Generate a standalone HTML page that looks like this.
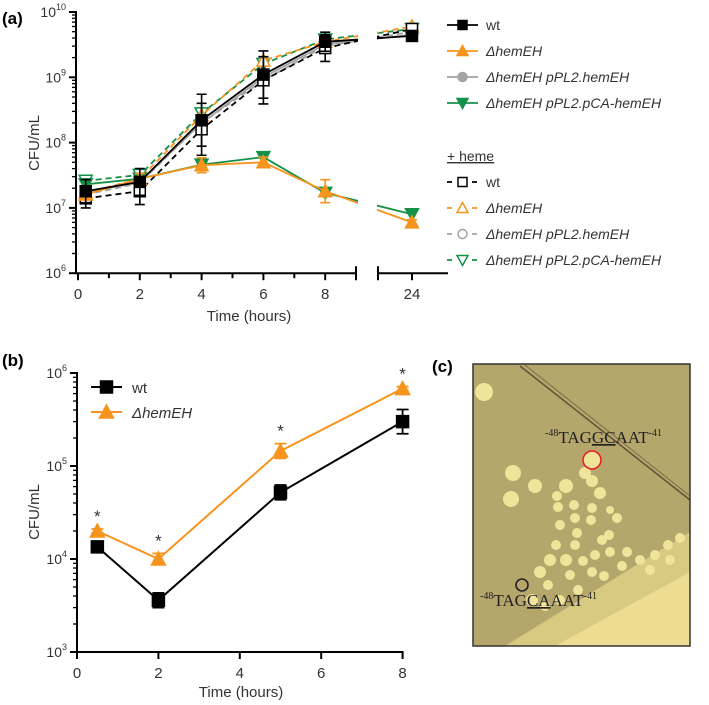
<!DOCTYPE html>
<html><head><meta charset="utf-8"><style>
html,body{margin:0;padding:0;background:#fff;}
svg{display:block;font-family:"Liberation Sans",sans-serif;}
</style></head><body>
<svg id="fig" width="709" height="705" viewBox="0 0 709 705" xmlns="http://www.w3.org/2000/svg">
<g id="pa"></g>
<g id="pb"></g>
<g id="pc"></g>
</svg>
<script>
// ---- Panel (a) data ----
const timesA = [0.25, 2, 4, 6, 8, 24];
const wtA = [1.8e7, 2.5e7, 2.2e8, 1.1e9, 3.5e9, 4.3e9];
const hemA = [1.6e7, 2.8e7, 4.5e7, 5.0e7, 1.8e7, 6e6];
const compA = [1.7e7, 2.5e7, 2.0e8, 1.0e9, 3.2e9, 4.5e9];
const pcaA = [2.3e7, 2.8e7, 4.6e7, 6.0e7, 1.7e7, 8e6];
const wtHemeA = [1.4e7, 1.8e7, 1.6e8, 9e8, 2.8e9, 5.5e9];
const hemHemeA = [1.7e7, 2.8e7, 2.6e8, 1.8e9, 3.5e9, 6e9];
const compHemeA = [1.6e7, 2.4e7, 2.0e8, 9e8, 3.0e9, 5e9];
const pcaHemeA = [2.6e7, 3.2e7, 2.8e8, 1.6e9, 3.8e9, 5.5e9];
const wtErrA = [1.5, 1.6, 2.5, 2.3, 1.4, 1.2];
const wtHemeErrA = [1.4, 1.6, 2.5, 2.3, 1.6, 1.2];
const hemErrA = [1.2, 1.2, 1.3, 1.2, 1.5, 1.1];
const yTicksA = [6, 7, 8, 9, 10];
const xTicksA = [0, 2, 4, 6, 8, 24];
// ---- Panel (b) data ----
const timesB = [0.5, 2, 5, 8];
const wtB = [1.35e4, 3.6e3, 5.2e4, 3.0e5];
const hemB = [2.0e4, 1.0e4, 1.45e5, 6.8e5];
const wtErrB = [1.1, 1.2, 1.2, 1.35];
const hemErrB = [1.05, 1.15, 1.2, 1.05];
const yTicksB = [3, 4, 5, 6];
const xTicksB = [0, 2, 4, 6, 8];

const NS = "http://www.w3.org/2000/svg";
function mk(parent, tag, attrs, text) {
  const e = document.createElementNS(NS, tag);
  for (const k in attrs) e.setAttribute(k, attrs[k]);
  if (text !== undefined) e.textContent = text;
  parent.appendChild(e);
  return e;
}
const ORANGE = "#f7941d", GREEN = "#149048", GRAY = "#a3a3a3", BLACK = "#000";

// ---------------- Panel A ----------------
const pa = document.getElementById('pa');
function xA(t) { return t <= 9 ? 78 + t * 30.9 : 412 + (t - 24) * 30.9; }
function yA(v) { return 12 + (10 - Math.log10(v)) * 65.3; }

let lbl = mk(pa, 'text', {x: 2, y: 24, 'font-size': 17, 'font-weight': 'bold'}, '(a)');
 

function seriesA(vals, color, dash, marker, filled, name, errs, width) {
  const g = mk(pa, 'g', {});
  
  
  const pts = timesA.map((t, i) => [xA(t), yA(vals[i])]);
  const d = pts.map((p, i) => (i ? 'L' : 'M') + p[0].toFixed(1) + ' ' + p[1].toFixed(1)).join(' ');
  const ln = mk(g, 'path', {d: d, fill: 'none', stroke: color, 'stroke-width': width || 1.8, 'stroke-dasharray': dash ? '6 4' : 'none'});
   
  if (errs) {
    timesA.forEach((t, i) => {
      const x = xA(t), y1 = yA(vals[i] * errs[i]), y2 = yA(vals[i] / errs[i]);
      const eb = mk(g, 'path', {d: `M${x} ${y1} V${y2} M${x - 5} ${y1} H${x + 5} M${x - 5} ${y2} H${x + 5}`, stroke: color, 'stroke-width': 1.6, fill: 'none'});
       
    });
  }
  pts.forEach(p => drawMarker(g, p[0], p[1], marker, color, filled, name + '-point', 5.5));
}
function drawMarker(g, x, y, m, color, filled, name, s) {
  let e;
  const fill = filled ? color : '#fff';
  if (m === 'sq') e = mk(g, 'rect', {x: x - s, y: y - s, width: 2 * s, height: 2 * s, fill: fill, stroke: color, 'stroke-width': 1.5});
  else if (m === 'tri') e = mk(g, 'path', {d: `M${x} ${y - s - 1} L${x + s + 1} ${y + s} L${x - s - 1} ${y + s} Z`, fill: fill, stroke: color, 'stroke-width': 1.5});
  else if (m === 'dtri') e = mk(g, 'path', {d: `M${x} ${y + s + 1} L${x + s + 1} ${y - s} L${x - s - 1} ${y - s} Z`, fill: fill, stroke: color, 'stroke-width': 1.5});
  else e = mk(g, 'circle', {cx: x, cy: y, r: s, fill: fill, stroke: color, 'stroke-width': 1.5});
  
  
}
seriesA(compHemeA, GRAY, true, 'circ', false, 'series-hemEH-pPL2-heme');
seriesA(compA, GRAY, false, 'circ', true, 'series-hemEH-pPL2');
seriesA(pcaHemeA, GREEN, true, 'dtri', false, 'series-pCA-heme');
seriesA(hemHemeA, ORANGE, true, 'tri', false, 'series-hemEH-heme');
seriesA(wtHemeA, BLACK, true, 'sq', false, 'series-wt-heme', wtHemeErrA);
seriesA(pcaA, GREEN, false, 'dtri', true, 'series-pCA');
seriesA(hemA, ORANGE, false, 'tri', true, 'series-hemEH', hemErrA);
seriesA(wtA, BLACK, false, 'sq', true, 'series-wt', wtErrA);
const gap = mk(pa, 'rect', {x: 358, y: 0, width: 19, height: 272, fill: '#fff'});
 

const axA = mk(pa, 'g', {stroke: '#000', 'stroke-width': 2, fill: 'none'});
 
const yAxY0 = yA(1e6);
mk(axA, 'path', {d: `M76 ${yA(1e10) - 1} V${yAxY0} H356 M356 ${yAxY0 - 7} V${yAxY0 + 7} M378 ${yAxY0 - 7} V${yAxY0 + 7} M378 ${yAxY0} H448`});
yTicksA.forEach(p => {
  mk(axA, 'path', {d: `M69 ${yA(Math.pow(10, p))} H76`});
  const t = mk(pa, 'text', {x: 66, y: yA(Math.pow(10, p)) + 5, 'font-size': 14, 'text-anchor': 'end', fill: '#333'});
   
  t.innerHTML = '10<tspan dy="-7" font-size="9">' + p + '</tspan>';
  if (p < 10) for (let k = 2; k <= 9; k++) mk(axA, 'path', {d: `M72 ${yA(k * Math.pow(10, p)).toFixed(1)} H76`, 'stroke-width': 1.3});
});
for (let t = 0; t <= 9; t++) if (t !== 9) mk(axA, 'path', {d: `M${xA(t)} ${yAxY0} V${yAxY0 + (t % 2 ? 5 : 7)}`});
mk(axA, 'path', {d: `M412 ${yAxY0} V${yAxY0 + 7}`});
xTicksA.forEach(t => {
  const e = mk(pa, 'text', {x: xA(t), y: 299, 'font-size': 15, 'text-anchor': 'middle', fill: '#333'}, String(t));
   
});
let e = mk(pa, 'text', {x: 249, y: 321, 'font-size': 15, 'text-anchor': 'middle', fill: '#333'}, 'Time (hours)');
 
e = mk(pa, 'text', {x: 0, y: 0, 'font-size': 15, 'text-anchor': 'middle', fill: '#333', transform: 'translate(39 143) rotate(-90)'}, 'CFU/mL');
 

const legA = [
  ['wt', BLACK, false, 'sq', true, 25, false],
  ['ΔhemEH', ORANGE, false, 'tri', true, 51, true],
  ['ΔhemEH pPL2.hemEH', GRAY, false, 'circ', true, 77, true],
  ['ΔhemEH pPL2.pCA-hemEH', GREEN, false, 'dtri', true, 103, true],
  ['wt', BLACK, true, 'sq', false, 182, false],
  ['ΔhemEH', ORANGE, true, 'tri', false, 208, true],
  ['ΔhemEH pPL2.hemEH', GRAY, true, 'circ', false, 234, true],
  ['ΔhemEH pPL2.pCA-hemEH', GREEN, true, 'dtri', false, 260, true]
];
legA.forEach(r => {
  const g = mk(pa, 'g', {});
   
  const y = r[5];
  if (r[2]) mk(g, 'path', {d: `M447 ${y} H452 M472 ${y} H477`, stroke: r[1], 'stroke-width': 1.8});
  else mk(g, 'path', {d: `M447 ${y} H478`, stroke: r[1], 'stroke-width': 1.8});
  drawMarker(g, 462.5, y, r[3], r[1], r[4], 'legend-marker', 4.5);
  mk(g, 'text', {x: 486, y: y + 5, 'font-size': 14, fill: '#333', 'font-style': r[6] ? 'italic' : 'normal'}, r[0]);
});
e = mk(pa, 'text', {x: 447, y: 161, 'font-size': 14, fill: '#333', 'text-decoration': 'underline'}, '+ heme');
 

// ---------------- Panel B ----------------
const pb = document.getElementById('pb');
function xB(t) { return 77 + t * 40.7; }
function yB(v) { return 373 + (6 - Math.log10(v)) * 93; }
e = mk(pb, 'text', {x: 2, y: 366, 'font-size': 17, 'font-weight': 'bold'}, '(b)');
 
function seriesB(vals, errs, color, marker, name) {
  const g = mk(pb, 'g', {});
   
  const pts = timesB.map((t, i) => [xB(t), yB(vals[i])]);
  mk(g, 'path', {d: pts.map((p, i) => (i ? 'L' : 'M') + p[0].toFixed(1) + ' ' + p[1].toFixed(1)).join(' '), fill: 'none', stroke: color, 'stroke-width': 2});
  timesB.forEach((t, i) => {
    const x = xB(t), y1 = yB(vals[i] * errs[i]), y2 = yB(vals[i] / errs[i]);
    mk(g, 'path', {d: `M${x} ${y1} V${y2} M${x - 6} ${y1} H${x + 6} M${x - 6} ${y2} H${x + 6}`, stroke: color, 'stroke-width': 1.8, fill: 'none'});
  });
  pts.forEach(p => drawMarker(g, p[0], p[1], marker, color, true, name + '-point', 6));
}
seriesB(wtB, wtErrB, BLACK, 'sq', 'series-b-wt');
seriesB(hemB, hemErrB, ORANGE, 'tri', 'series-b-hemEH');
timesB.forEach((t, i) => {
  const s = mk(pb, 'text', {x: xB(t), y: yB(hemB[i] * hemErrB[i]) - 7, 'font-size': 17, 'text-anchor': 'middle', fill: '#333'}, '*');
   
});
const axB = mk(pb, 'g', {stroke: '#000', 'stroke-width': 2, fill: 'none'});
 
const yB0 = yB(1e3);
mk(axB, 'path', {d: `M77 ${yB(1e6) - 1} V${yB0} H${xB(8) + 1}`});
yTicksB.forEach(p => {
  mk(axB, 'path', {d: `M70 ${yB(Math.pow(10, p))} H77`});
  const t = mk(pb, 'text', {x: 67, y: yB(Math.pow(10, p)) + 5, 'font-size': 14, 'text-anchor': 'end', fill: '#333'});
   
  t.innerHTML = '10<tspan dy="-7" font-size="9">' + p + '</tspan>';
  if (p < 6) for (let k = 2; k <= 9; k++) mk(axB, 'path', {d: `M73 ${yB(k * Math.pow(10, p)).toFixed(1)} H77`, 'stroke-width': 1.3});
});
xTicksB.forEach(t => {
  mk(axB, 'path', {d: `M${xB(t)} ${yB0} V${yB0 + 7}`});
  const s = mk(pb, 'text', {x: xB(t), y: yB0 + 26, 'font-size': 15, 'text-anchor': 'middle', fill: '#333'}, String(t));
   
});
e = mk(pb, 'text', {x: 241, y: 697, 'font-size': 15, 'text-anchor': 'middle', fill: '#333'}, 'Time (hours)');
 
e = mk(pb, 'text', {x: 0, y: 0, 'font-size': 15, 'text-anchor': 'middle', fill: '#333', transform: 'translate(39 512) rotate(-90)'}, 'CFU/mL');
 
[['wt', BLACK, 'sq', 387, false], ['ΔhemEH', ORANGE, 'tri', 412, true]].forEach(r => {
  const g = mk(pb, 'g', {});
   
  mk(g, 'path', {d: `M91 ${r[3]} H122`, stroke: r[1], 'stroke-width': 2});
  drawMarker(g, 106.5, r[3], r[2], r[1], true, 'legend-marker', 6);
  mk(g, 'text', {x: 132, y: r[3] + 6, 'font-size': 15, fill: '#333', 'font-style': r[4] ? 'italic' : 'normal'}, r[0]);
});

// ---------------- Panel C ----------------
const pc = document.getElementById('pc');
e = mk(pc, 'text', {x: 432, y: 372, 'font-size': 17, 'font-weight': 'bold'}, '(c)');
 
const ph = mk(pc, 'g', {});
 
mk(ph, 'defs', {}).innerHTML = '<clipPath id="cp"><rect x="473" y="364" width="217" height="282"/></clipPath>';
const cg = mk(ph, 'g', {'clip-path': 'url(#cp)'});
mk(cg, 'rect', {x: 473, y: 364, width: 217, height: 282, fill: '#b5a76c'});
mk(cg, 'path', {d: 'M505 646 L690 532 L690 646 Z', fill: '#d9ca82'});
mk(cg, 'path', {d: 'M555 646 L690 572 L690 646 Z', fill: '#ecdd92'});
mk(cg, 'path', {d: 'M520 366 L690 500', stroke: '#5e5436', 'stroke-width': 1.5, fill: 'none'});
mk(cg, 'path', {d: 'M525 365 L690 496', stroke: '#7a6e48', 'stroke-width': 1, fill: 'none'});
const col = [[484,392,9],[513,473,8],[511,499,8],[535,486,7],[566,486,7],[585,473,6],[592,481,6],[600,493,6],[557,496,5],[558,507,5],[574,505,5],[575,518,5],[592,508,5],[591,520,5],[560,525,5],[577,533,5],[609,535,5],[602,540,5],[617,518,5],[610,510,4],[575,545,5],[556,545,5],[566,560,6],[595,555,5],[610,552,5],[550,560,6],[592,572,5],[570,575,5],[540,572,6],[578,590,5],[548,585,5],[604,576,5],[583,561,5],[627,552,5],[622,566,5],[532,600,6],[545,606,5],[560,600,5],[640,560,5],[655,555,5],[668,545,5],[680,538,5],[650,570,5],[670,560,5]];
col.forEach(c => mk(cg, 'circle', {cx: c[0], cy: c[1], r: c[2], fill: '#f0e39a'}));
mk(cg, 'circle', {cx: 592, cy: 460, r: 9, fill: '#f0e39a', stroke: '#e8202a', 'stroke-width': 1.6});
mk(cg, 'circle', {cx: 522, cy: 585, r: 6, fill: 'none', stroke: '#222', 'stroke-width': 1.6});
mk(ph, 'rect', {x: 473, y: 364, width: 217, height: 282, fill: 'none', stroke: '#333', 'stroke-width': 1.5});
e = mk(pc, 'text', {x: 545, y: 443, 'font-size': 17, 'font-family': '"Liberation Serif",serif', fill: '#222'});
 
e.innerHTML = '<tspan font-size="10" dy="-7">-48</tspan><tspan dy="7">TAG</tspan><tspan text-decoration="underline">GC</tspan>AAT<tspan font-size="10" dy="-7">-41</tspan>';
e = mk(pc, 'text', {x: 480, y: 606, 'font-size': 17, 'font-family': '"Liberation Serif",serif', fill: '#222'});
 
e.innerHTML = '<tspan font-size="10" dy="-7">-48</tspan><tspan dy="7">TAG</tspan><tspan text-decoration="underline">CA</tspan>AAT<tspan font-size="10" dy="-7">-41</tspan>';
</script>
</body></html>
